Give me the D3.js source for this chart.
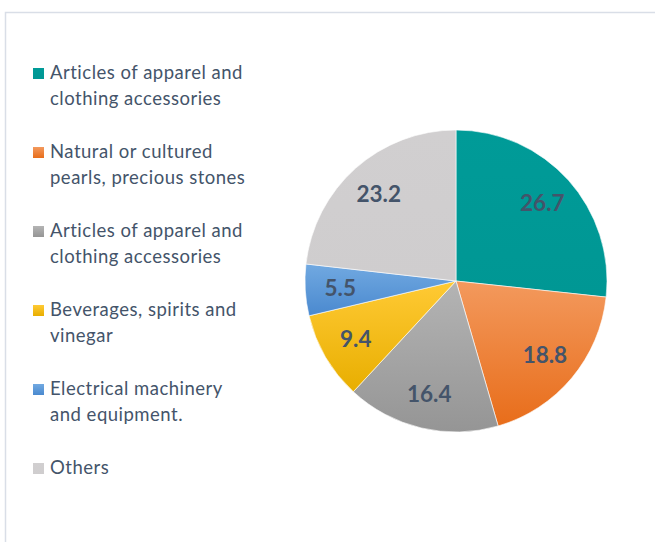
<!DOCTYPE html>
<html lang="en">

<head>
  <title></title>
  <meta charset="UTF-8">
  <script src="https://cdn.jsdelivr.net/npm/d3@7"></script>
  <style>
    body { margin: 0; background: #fff; }
  </style>
</head>

<body>
  <svg width="655" height="542" id="chart"></svg>
  <script>
    // chart data
    var categories = [
      ['Articles of apparel and', 'clothing accessories'],
      ['Natural or cultured', 'pearls, precious stones'],
      ['Articles of apparel and', 'clothing accessories'],
      ['Beverages, spirits and', 'vinegar'],
      ['Electrical machinery', 'and equipment.'],
      ['Others']
    ];
    var values = [26.7, 18.8, 16.4, 9.4, 5.5, 23.2];
    var colorsTop = ['#009b98', '#f3995d', '#b4b4b4', '#ffca35', '#71a9e1', '#d1cfd0'];
    var colorsBottom = ['#009794', '#e86d1a', '#959595', '#e8ae00', '#4a89cf', '#cfcdce'];

    var svg = d3.select('#chart');
    var font = 'Lato, "Open Sans", sans-serif';
    var textColor = '#44546a';

    // frame
    svg.append('path')
      .attr('d', 'M5.5,545 V12.5 H660')
      .attr('fill', 'none')
      .attr('stroke', '#d9dee7')
      .attr('stroke-width', 1.5);

    var defs = svg.append('defs');
    values.forEach(function (v, i) {
      var g = defs.append('linearGradient')
        .attr('id', 'grad' + i)
        .attr('x1', 0).attr('y1', 0).attr('x2', 0).attr('y2', 1);
      g.append('stop').attr('offset', '0%').attr('stop-color', colorsTop[i]);
      g.append('stop').attr('offset', '100%').attr('stop-color', colorsBottom[i]);
    });

    var cx = 456, cy = 281, radius = 151;
    var pie = d3.pie().sort(null).value(function (d) { return d; });
    var arc = d3.arc().innerRadius(0).outerRadius(radius);
    var labelArc = d3.arc().innerRadius(116).outerRadius(116);

    var g = svg.append('g').attr('transform', 'translate(' + cx + ',' + cy + ')');
    var arcs = pie(values);

    g.selectAll('path.slice')
      .data(arcs)
      .enter().append('path')
      .attr('class', 'slice')
      .attr('d', arc)
      .attr('fill', function (d, i) { return 'url(#grad' + i + ')'; })
      .attr('stroke', '#fff')
      .attr('stroke-width', 0.6);

    g.selectAll('text.lbl')
      .data(arcs)
      .enter().append('text')
      .attr('class', 'lbl')
      .attr('transform', function (d) { return 'translate(' + labelArc.centroid(d) + ')'; })
      .attr('text-anchor', 'middle')
      .attr('dy', '0.35em')
      .attr('font-family', font)
      .attr('font-weight', 'bold')
      .attr('font-size', 22.5)
      .attr('fill', textColor)
      .text(function (d) { return d.value.toFixed(1); });

    // legend
    var legend = svg.append('g');
    var items = legend.selectAll('g.item')
      .data(categories)
      .enter().append('g')
      .attr('class', 'item')
      .attr('transform', function (d, i) { return 'translate(33,' + (79 + i * 79) + ')'; });

    items.append('rect')
      .attr('x', 0).attr('y', -11)
      .attr('width', 11).attr('height', 11)
      .attr('fill', function (d, i) { return 'url(#grad' + i + ')'; });

    items.append('text')
      .attr('x', 17)
      .attr('font-family', font)
      .attr('font-size', 18.5)
      .attr('letter-spacing', 0.5)
      .attr('fill', textColor)
      .selectAll('tspan')
      .data(function (d) { return d; })
      .enter().append('tspan')
      .attr('x', 17)
      .attr('y', function (d, j) { return j * 26; })
      .text(function (d) { return d; });
  </script>
</body>

</html>
